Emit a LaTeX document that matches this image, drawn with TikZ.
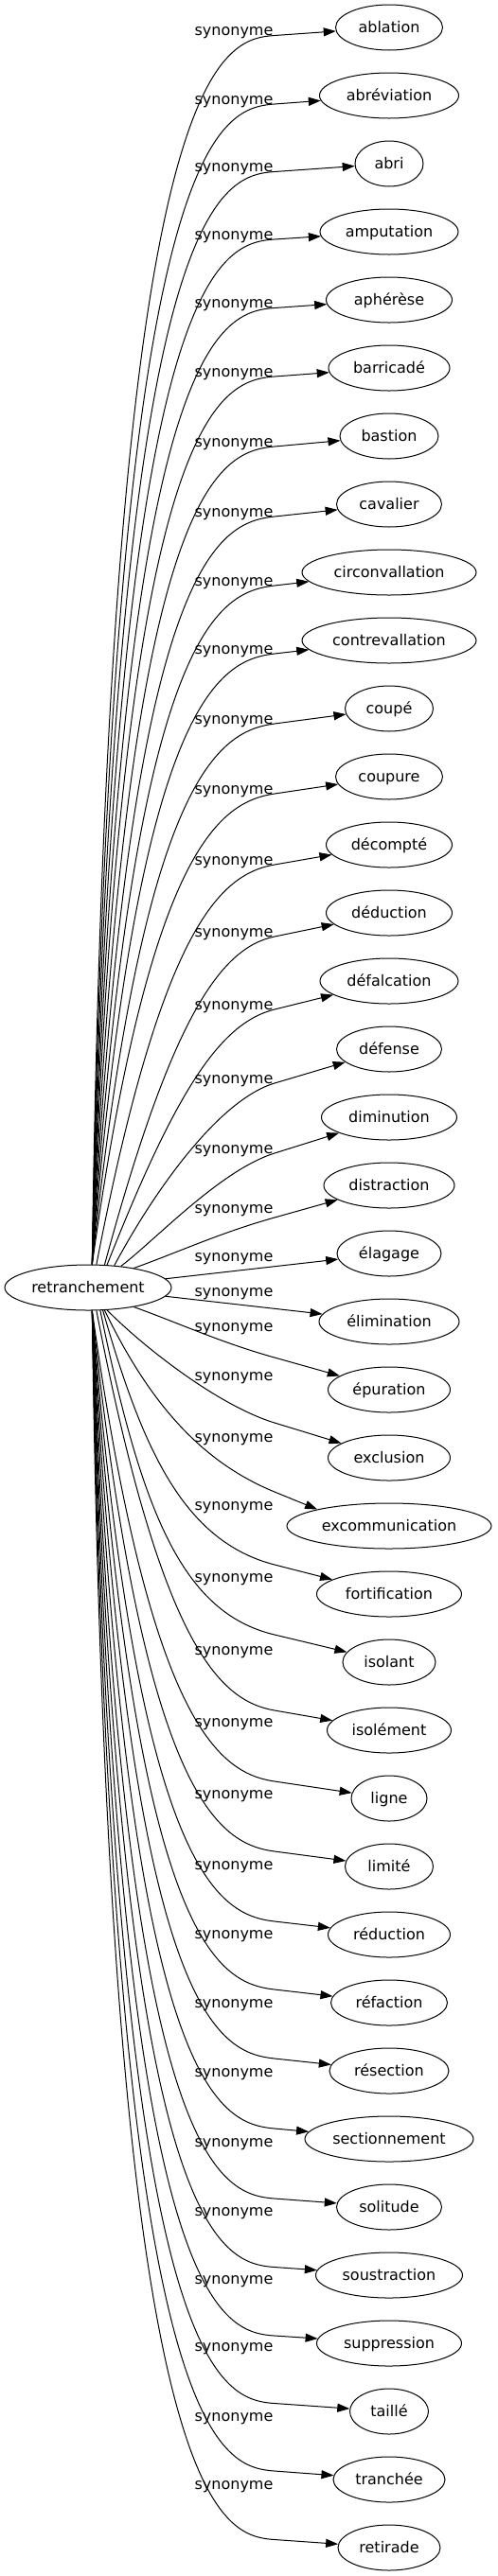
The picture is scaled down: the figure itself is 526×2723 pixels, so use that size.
\documentclass[tikz,border=0pt]{standalone}
\usepackage{fontspec}
\setmainfont{DejaVu Sans}
\usetikzlibrary{shapes.geometric,arrows.meta}
\tikzset{
    word/.style={
    ellipse,draw=black,line width=1pt,inner sep=0pt,minimum height=48pt,
    text height=13pt,text depth=2.5pt,font=\fontsize{16pt}{18pt}\selectfont
    },
    relation/.style={
    anchor=base,inner sep=0pt,font=\fontsize{16pt}{18pt}\selectfont
    },
    syn/.style={
    draw=black,line width=1pt,-{Triangle[length=13pt,width=9pt]}
    },
}
\begin{document}
\begin{tikzpicture}[x=1pt,y=-1pt]
   \useasboundingbox (0,0) rectangle (526,2723);

   %root
   \node[word,minimum width=176pt] (root) at (93,1361) {retranchement};

   %words above
   \node[word,minimum width=113pt] (t0) at (411,29) {ablation};
   \node[word,minimum width=147pt] (t1) at (411,101) {abréviation};
   \node[word,minimum width=72pt] (t2) at (411,173) {abri};
   \node[word,minimum width=146pt] (t3) at (411,245) {amputation};
   \node[word,minimum width=133pt] (t4) at (411,317) {aphérèse};
   \node[word,minimum width=128pt] (t5) at (411,389) {barricadé};
   \node[word,minimum width=104pt] (t6) at (411,461) {bastion};
   \node[word,minimum width=111pt] (t7) at (411,533) {cavalier};
   \node[word,minimum width=184pt] (t8) at (411,605) {circonvallation};
   \node[word,minimum width=184pt] (t9) at (411,677) {contrevallation};
   \node[word,minimum width=93pt] (t10) at (411,749) {coupé};
   \node[word,minimum width=113pt] (t11) at (411,821) {coupure};
   \node[word,minimum width=133pt] (t12) at (411,893) {décompté};
   \node[word,minimum width=133pt] (t13) at (411,965) {déduction};
   \node[word,minimum width=146pt] (t14) at (411,1037) {défalcation};
   \node[word,minimum width=111pt] (t15) at (411,1109) {défense};
   \node[word,minimum width=143pt] (t16) at (411,1181) {diminution};
   \node[word,minimum width=138pt] (t17) at (411,1253) {distraction};
   \node[word,minimum width=110pt] (t18) at (411,1325) {élagage};

   %words below
   \node[word,minimum width=148pt] (t19) at (411,1397) {élimination};
   \node[word,minimum width=129pt] (t20) at (411,1469) {épuration};
   \node[word,minimum width=129pt] (t21) at (411,1541) {exclusion};
   \node[word,minimum width=216pt] (t22) at (411,1613) {excommunication};
   \node[word,minimum width=153pt] (t23) at (411,1685) {fortification};
   \node[word,minimum width=98pt] (t24) at (411,1757) {isolant};
   \node[word,minimum width=131pt] (t25) at (411,1829) {isolément};
   \node[word,minimum width=80pt] (t26) at (411,1901) {ligne};
   \node[word,minimum width=93pt] (t27) at (411,1973) {limité};
   \node[word,minimum width=129pt] (t28) at (411,2045) {réduction};
   \node[word,minimum width=123pt] (t29) at (411,2117) {réfaction};
   \node[word,minimum width=126pt] (t30) at (411,2189) {résection};
   \node[word,minimum width=178pt] (t31) at (411,2261) {sectionnement};
   \node[word,minimum width=111pt] (t32) at (411,2333) {solitude};
   \node[word,minimum width=155pt] (t33) at (411,2405) {soustraction};
   \node[word,minimum width=153pt] (t34) at (411,2477) {suppression};
   \node[word,minimum width=83pt] (t35) at (411,2549) {taillé};
   \node[word,minimum width=118pt] (t36) at (411,2621) {tranchée};
   \node[word,minimum width=108pt] (t37) at (411,2693) {retirade};

   %labels
   \node[relation] (l0) at (247,37.5) {synonyme};
   \node[relation] (l1) at (247,110) {synonyme};
   \node[relation] (l2) at (247,181.5) {synonyme};
   \node[relation] (l3) at (247,253) {synonyme};
   \node[relation] (l4) at (247,325.5) {synonyme};
   \node[relation] (l5) at (247,398) {synonyme};
   \node[relation] (l6) at (247,472) {synonyme};
   \node[relation] (l7) at (247,546) {synonyme};
   \node[relation] (l8) at (247,619) {synonyme};
   \node[relation] (l9) at (247,691) {synonyme};
   \node[relation] (l10) at (247,765) {synonyme};
   \node[relation] (l11) at (247,839) {synonyme};
   \node[relation] (l12) at (247,914) {synonyme};
   \node[relation] (l13) at (247,990) {synonyme};
   \node[relation] (l14) at (247,1067) {synonyme};
   \node[relation] (l15) at (247,1145) {synonyme};
   \node[relation] (l16) at (247,1219) {synonyme};
   \node[relation] (l17) at (247,1282) {synonyme};
   \node[relation] (l18) at (247,1333) {synonyme};
   \node[relation] (l19) at (247,1370) {synonyme};
   \node[relation] (l20) at (247,1407) {synonyme};
   \node[relation] (l21) at (247,1459) {synonyme};
   \node[relation] (l22) at (247,1524) {synonyme};
   \node[relation] (l23) at (247,1596) {synonyme};
   \node[relation] (l24) at (247,1672.5) {synonyme};
   \node[relation] (l25) at (247,1749.5) {synonyme};
   \node[relation] (l26) at (247,1825.5) {synonyme};
   \node[relation] (l27) at (247,1901) {synonyme};
   \node[relation] (l28) at (247,1976) {synonyme};
   \node[relation] (l29) at (247,2049) {synonyme};
   \node[relation] (l30) at (247,2122) {synonyme};
   \node[relation] (l31) at (247,2195) {synonyme};
   \node[relation] (l32) at (247,2269) {synonyme};
   \node[relation] (l33) at (247,2342) {synonyme};
   \node[relation] (l34) at (247,2414) {synonyme};
   \node[relation] (l35) at (247,2485.5) {synonyme};
   \node[relation] (l36) at (247,2559) {synonyme};
   \node[relation] (l37) at (247,2631) {synonyme};

   %edges above
   \draw[syn] (root.80) .. controls (115,70.5) and (230,41.7) .. (290,37.5) -- (t0);
   \draw[syn] (root.80) .. controls (118,144) and (230,114.5) .. (290,110) -- (t1);
   \draw[syn] (root.80) .. controls (121,216.5) and (230,185.7) .. (290,181.5) -- (t2);
   \draw[syn] (root.80) .. controls (124,289) and (230,257) .. (290,253) -- (t3);
   \draw[syn] (root.80) .. controls (127,363.5) and (230,329.7) .. (290,325.5) -- (t4);
   \draw[syn] (root.80) .. controls (130,438) and (230,402.5) .. (290,398) -- (t5);
   \draw[syn] (root.80) .. controls (134,514) and (230,477.4) .. (290,472) -- (t6);
   \draw[syn] (root.80) .. controls (138,591) and (230,552.4) .. (290,546) -- (t7);
   \draw[syn] (root.80) .. controls (142,667) and (230,625.9) .. (290,619) -- (t8);
   \draw[syn] (root.80) .. controls (146,743) and (230,697.9) .. (290,691) -- (t9);
   \draw[syn] (root.80) .. controls (152,822) and (230.5,772.9) .. (290,765) -- (t10);
   \draw[syn] (root.80) .. controls (158,901) and (230.6,847.8) .. (290,839) -- (t11);
   \draw[syn] (root.70) .. controls (170,984) and (230.9,924.3) .. (290,914) -- (t12);
   \draw[syn] (root.54) .. controls (180,1080) and (231.3,1002.1) .. (290,990) -- (t13);
   \draw[syn] (root.50) .. controls (185,1155) and (231.8,1081.4) .. (290,1067) -- (t14);
   \draw[syn] (root.40) .. controls (165,1255) and (232.5,1162.1) .. (290,1145) -- (t15);
   \draw[syn] (root.33) .. controls (165,1310) and (232.7,1237) .. (290,1219) -- (t16);
   \draw[syn] (root.23) .. controls (190,1323) and (232.2,1303.2) .. (290,1287) -- (t17);
   \draw[syn] (root) -- (t18);

   %edges below
   \draw[syn] (root) -- (t19);
   \draw[syn] (root.-23) .. controls (190,1399) and (232.2,1418.8) .. (290,1435) -- (t20);
   \draw[syn] (root.-50) .. controls (155,1427) and (232.6,1486.5) .. (290,1504) -- (t21);
   \draw[syn] (root.-54) .. controls (154,1475) and (207,1543) .. (290,1577) -- (t22.167);
   \draw[syn] (root.-57) .. controls (150,1530) and (193,1629) .. (290,1654) -- (t23);
   \draw[syn] (root.-62) .. controls (150,1600) and (193,1705) .. (290,1728) -- (t24);
   \draw[syn] (root.-70) .. controls (170,1738) and (230.9,1797.7) .. (290,1808) -- (t25);
   \draw[syn] (root.-80) .. controls (158,1821) and (230.6,1874.2) .. (290,1883) -- (t26);
   \draw[syn] (root.-80) .. controls (152,1900) and (230.5,1949.1) .. (290,1957) -- (t27);
   \draw[syn] (root.-80) .. controls (146,1979) and (230,2024.1) .. (290,2031) -- (t28);
   \draw[syn] (root.-80) .. controls (142,2055) and (230,2096.1) .. (290,2103) -- (t29);
   \draw[syn] (root.-80) .. controls (138,2131) and (230,2169.6) .. (290,2176) -- (t30);
   \draw[syn] (root.-80) .. controls (134,2208) and (230,2244.6) .. (290,2250) -- (t31);
   \draw[syn] (root.-80) .. controls (130,2284) and (230,2319.5) .. (290,2324) -- (t32);
   \draw[syn] (root.-80) .. controls (127,2358.5) and (230,2392.3) .. (290,2396.5) -- (t33);
   \draw[syn] (root.-80) .. controls (124,2433) and (230,2465) .. (290,2469) -- (t34);
   \draw[syn] (root.-80) .. controls (121,2505.5) and (230,2536.3) .. (290,2540.5) -- (t35);
   \draw[syn] (root.-80) .. controls (118,2578) and (230,2607.5) .. (290,2612) -- (t36);
   \draw[syn] (root.-80) .. controls (115,2651.5) and (230,2680.3) .. (290,2684.5) -- (t37);
\end{tikzpicture}
\end{document}
